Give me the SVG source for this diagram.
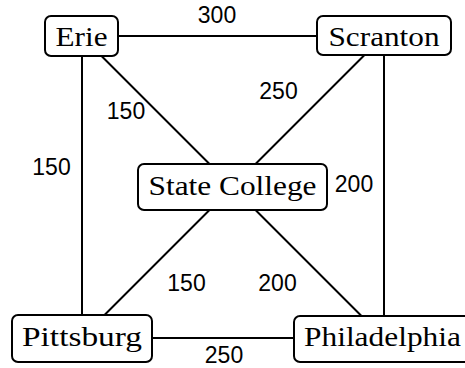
<svg xmlns="http://www.w3.org/2000/svg" width="465" height="368" viewBox="0 0 465 368">
<style>
.box{fill:#fff;stroke:#000;stroke-width:2}
.nt{font-family:'Liberation Serif','Noto Serif','DejaVu Serif',serif;font-size:28px;fill:#000;text-anchor:middle}
.lb{font-family:'Liberation Sans',Arial,sans-serif;font-size:23px;fill:#000;text-anchor:middle}
.e{stroke:#000;stroke-width:2;fill:none}
</style>
<rect width="465" height="368" fill="#fff"/>
<g id="connectors">
<line class="e" x1="118" y1="36" x2="317" y2="36"/>
<line class="e" x1="82" y1="56" x2="82" y2="315"/>
<line class="e" x1="384" y1="55" x2="384" y2="316"/>
<line class="e" x1="152" y1="338" x2="294" y2="338"/>
<line class="e" x1="101.5" y1="56" x2="209.5" y2="164"/>
<line class="e" x1="364.5" y1="55" x2="255.5" y2="164"/>
<line class="e" x1="209.5" y1="210" x2="104.5" y2="315"/>
<line class="e" x1="255.5" y1="210" x2="361.5" y2="316"/>
</g>
<g id="labels">
<text class="lb" x="217" y="23">300</text>
<text class="lb" x="278.5" y="99">250</text>
<text class="lb" x="126" y="119">150</text>
<text class="lb" x="51.5" y="175">150</text>
<text class="lb" x="354" y="192">200</text>
<text class="lb" x="186.5" y="291">150</text>
<text class="lb" x="277.5" y="291">200</text>
<text class="lb" x="224" y="363">250</text>
</g>
<g id="erie">
<rect class="box" x="45" y="16" width="73" height="40" rx="6"/>
<text class="nt" x="81.5" y="46" textLength="52" lengthAdjust="spacingAndGlyphs">Erie</text>
</g>
<g id="scranton">
<rect class="box" x="317" y="16" width="134" height="39" rx="6"/>
<text class="nt" x="384" y="46" textLength="111" lengthAdjust="spacingAndGlyphs">Scranton</text>
</g>
<g id="state-college">
<rect class="box" x="138" y="164" width="189" height="46" rx="6"/>
<text class="nt" x="232.5" y="195" textLength="168" lengthAdjust="spacingAndGlyphs">State College</text>
</g>
<g id="pittsburg">
<rect class="box" x="12" y="315" width="140" height="47" rx="6"/>
<text class="nt" x="82" y="346" textLength="120" lengthAdjust="spacingAndGlyphs">Pittsburg</text>
</g>
<g id="philadelphia">
<rect class="box" x="294" y="316" width="180" height="46" rx="6"/>
<text class="nt" x="382.5" y="346" textLength="157" lengthAdjust="spacingAndGlyphs">Philadelphia</text>
</g>
</svg>
